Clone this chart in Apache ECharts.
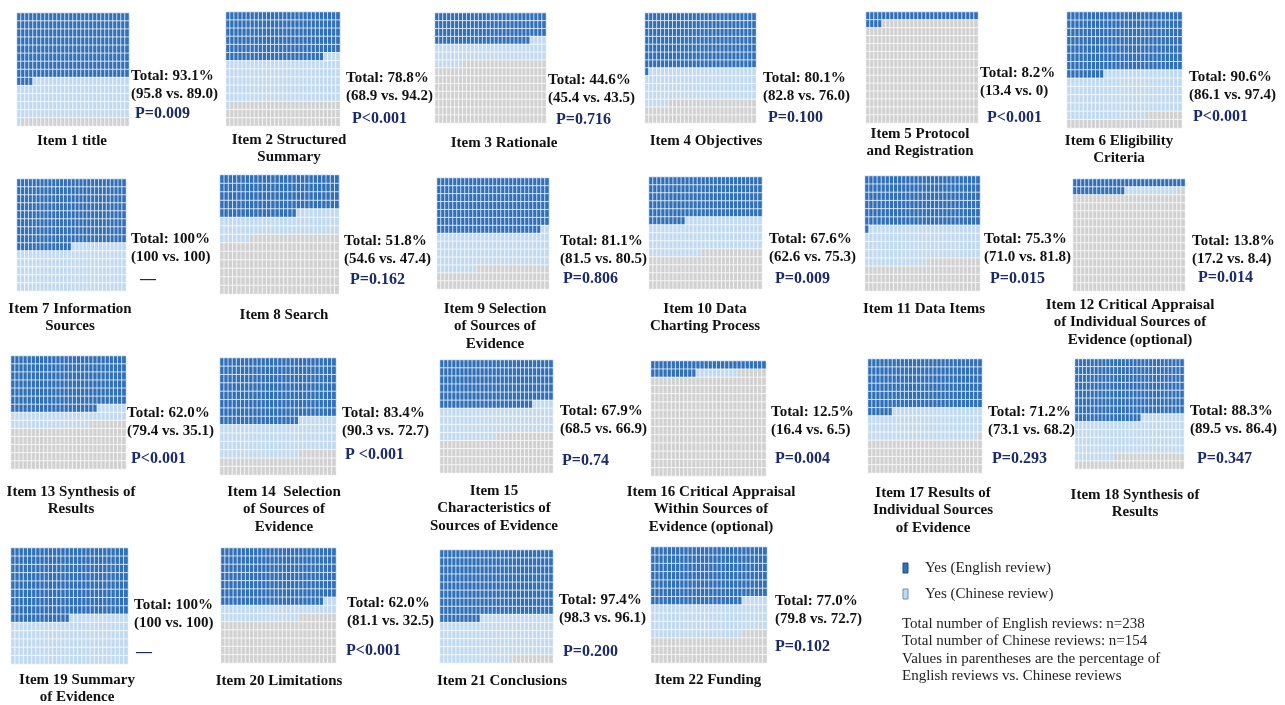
<!DOCTYPE html>
<html>
<head>
<meta charset="utf-8">
<script src="https://cdn.jsdelivr.net/npm/echarts@6/dist/echarts.min.js"></script>
<style>
html, body { margin: 0; padding: 0; background: #fff; }
#chart { width: 1285px; height: 705px; }
</style>
</head>
<body>
<div id="chart"></div>
<script>
// one cell per review: 238 English + 154 Chinese = 392 = 28 x 14
var nEnglish = 238
var nChinese = 154

var itemNames = [
    'Item 1 title', 'Item 2 Structured\nSummary', 'Item 3 Rationale', 'Item 4 Objectives',
    'Item 5 Protocol\nand Registration', 'Item 6 Eligibility\nCriteria',
    'Item 7 Information\nSources', 'Item 8 Search', 'Item 9 Selection\nof Sources of\nEvidence',
    'Item 10 Data\nCharting Process', 'Item 11 Data Items',
    'Item 12 Critical Appraisal\nof Individual Sources of\nEvidence (optional)',
    'Item 13 Synthesis of\nResults', 'Item 14  Selection\nof Sources of\nEvidence',
    'Item 15\nCharacteristics of\nSources of Evidence',
    'Item 16 Critical Appraisal\nWithin Sources of\nEvidence (optional)',
    'Item 17 Results of\nIndividual Sources\nof Evidence', 'Item 18 Synthesis of\nResults',
    'Item 19 Summary\nof Evidence', 'Item 20 Limitations', 'Item 21 Conclusions', 'Item 22 Funding'
]
var totalPct = ['93.1%', '78.8%', '44.6%', '80.1%', '8.2%', '90.6%', '100%', '51.8%', '81.1%', '67.6%', '75.3%',
    '13.8%', '62.0%', '83.4%', '67.9%', '12.5%', '71.2%', '88.3%', '100%', '62.0%', '97.4%', '77.0%']
var englishPct = ['95.8', '68.9', '45.4', '82.8', '13.4', '86.1', '100', '54.6', '81.5', '62.6', '71.0',
    '17.2', '79.4', '90.3', '68.5', '16.4', '73.1', '89.5', '100', '81.1', '98.3', '79.8']
var chinesePct = ['89.0', '94.2', '43.5', '76.0', '0', '97.4', '100', '47.4', '80.5', '75.3', '81.8',
    '8.4', '35.1', '72.7', '66.9', '6.5', '68.2', '86.4', '100', '32.5', '96.1', '72.7']
var pLabels = ['P=0.009', 'P<0.001', 'P=0.716', 'P=0.100', 'P<0.001', 'P<0.001', '\u2014', 'P=0.162', 'P=0.806',
    'P=0.009', 'P=0.015', 'P=0.014', 'P<0.001', 'P <0.001', 'P=0.74', 'P=0.004', 'P=0.293', 'P=0.347',
    '\u2014', 'P<0.001', 'P=0.200', 'P=0.102']
// number of "yes" reviews per item
var englishYes = [228, 164, 108, 197, 32, 205, 238, 130, 194, 149, 169, 41, 189, 215, 163, 39, 174, 213, 238, 193, 234, 190]
var chineseYes = [137, 145, 67, 117, 0, 150, 154, 73, 124, 116, 126, 13, 54, 112, 103, 10, 105, 133, 154, 50, 148, 112]

var noteLines = [
    'Total number of English reviews: n=238',
    'Total number of Chinese reviews: n=154',
    'Values in parentheses are the percentage of',
    'English reviews vs. Chinese reviews'
]

// layout (pixels)
var boxes = [
    [17, 13, 112, 113], [226, 12, 114, 114], [435, 13, 111, 110], [645, 13, 111, 110], [866, 12, 112, 111], [1067, 12, 115, 116],
    [17, 179, 109, 112], [220, 175, 119, 119], [437, 178, 112, 111], [649, 177, 113, 112], [865, 176, 115, 115], [1073, 179, 112, 112],
    [11, 356, 115, 113], [220, 358, 116, 117], [440, 360, 113, 113], [651, 361, 115, 115], [868, 359, 114, 114], [1075, 359, 109, 110],
    [11, 548, 117, 116], [221, 548, 115, 115], [440, 550, 113, 113], [651, 547, 116, 116]
]
var totalPos = [[131, 76], [346, 78], [548, 80], [763, 78], [980, 73], [1189, 77], [131, 239], [344, 241], [560, 241],
    [769, 239], [984, 239], [1192, 241], [127, 413], [342, 413], [560, 411], [771, 412], [988, 412], [1190, 411],
    [134, 605], [347, 603], [559, 600], [775, 601]]
var pPos = [[135, 114], [352, 119], [556, 120], [768, 118], [987, 118], [1193, 117], [140, 280], [350, 280], [563, 279],
    [775, 279], [990, 279], [1198, 278], [131, 459], [345, 455], [562, 461], [775, 459], [992, 459], [1197, 459],
    [136, 653], [346, 651], [563, 652], [775, 647]]
var labelPos = [[72, 141], [289, 140], [504, 143], [706, 141], [920, 134], [1119, 141], [70, 309], [284, 315], [495, 309],
    [705, 309], [924, 309], [1130, 305], [71, 492], [284, 492], [494, 491], [711, 492], [933, 493], [1135, 495],
    [77, 680], [279, 681], [502, 681], [708, 680]]

var COLS = 28
var ROWS = 14
var DARK = '#3070b8'
var LIGHT = '#c2daf0'
var GRAY = '#d1d1d1'
var NAVY = '#1b2a6b'
var FONT = '"Liberation Serif", "Times New Roman", serif'

var colCats = []
for (var c = 0; c < COLS; c++) colCats.push(c)
var rowCats = []
for (var r = 0; r < ROWS; r++) rowCats.push(r)

var grids = [], xAxes = [], yAxes = [], series = [], graphics = []
var seriesIdx = []

for (var i = 0; i < itemNames.length; i++) {
    var b = boxes[i]
    grids.push({ left: b[0], top: b[1], width: b[2], height: b[3], containLabel: false })
    xAxes.push({ type: 'category', gridIndex: i, data: colCats, show: false })
    yAxes.push({ type: 'category', gridIndex: i, data: rowCats, inverse: true, show: false })

    // fill row by row: English yes, then Chinese yes, then no
    var cells = []
    for (var k = 0; k < nEnglish + nChinese; k++) {
        var v = 0
        if (k < englishYes[i]) v = 2
        else if (k < englishYes[i] + chineseYes[i]) v = 1
        cells.push([k % COLS, Math.floor(k / COLS), v])
    }
    series.push({
        type: 'heatmap',
        name: itemNames[i],
        xAxisIndex: i,
        yAxisIndex: i,
        data: cells,
        itemStyle: { borderColor: 'rgba(255,255,255,0.7)', borderWidth: 1 },
        emphasis: { disabled: true }
    })
    seriesIdx.push(i)

    graphics.push({
        type: 'text', x: totalPos[i][0], y: totalPos[i][1] - 9,
        style: {
            text: 'Total: ' + totalPct[i] + '\n(' + englishPct[i] + ' vs. ' + chinesePct[i] + ')',
            font: 'bold 15px ' + FONT, fill: '#111', lineHeight: 18,
            textAlign: 'left', textVerticalAlign: 'top'
        }
    })
    graphics.push({
        type: 'text', x: pPos[i][0], y: pPos[i][1],
        style: {
            text: pLabels[i], font: 'bold 16px ' + FONT, fill: NAVY,
            textAlign: 'left', textVerticalAlign: 'middle'
        }
    })
    graphics.push({
        type: 'text', x: labelPos[i][0], y: labelPos[i][1] - 9,
        style: {
            text: itemNames[i], font: 'bold 15px ' + FONT, fill: '#111', lineHeight: 17.5,
            textAlign: 'center', textVerticalAlign: 'top'
        }
    })
}

// legend + notes
graphics.push({ type: 'rect', shape: { x: 903, y: 563, width: 5, height: 10 }, style: { fill: DARK, stroke: '#1f4e79', lineWidth: 1 } })
graphics.push({ type: 'rect', shape: { x: 903, y: 589, width: 5, height: 10 }, style: { fill: LIGHT, stroke: '#6f8fb0', lineWidth: 1 } })
graphics.push({ type: 'text', x: 925, y: 568, style: { text: 'Yes (English review)', font: '15px ' + FONT, fill: '#222', textVerticalAlign: 'middle' } })
graphics.push({ type: 'text', x: 925, y: 594, style: { text: 'Yes (Chinese review)', font: '15px ' + FONT, fill: '#222', textVerticalAlign: 'middle' } })
graphics.push({
    type: 'text', x: 902, y: 615,
    style: { text: noteLines.join('\n'), font: '15px ' + FONT, fill: '#222', lineHeight: 17.5, textVerticalAlign: 'top' }
})

var option = {
    backgroundColor: '#fff',
    animation: false,
    grid: grids,
    xAxis: xAxes,
    yAxis: yAxes,
    visualMap: {
        type: 'piecewise',
        show: false,
        dimension: 2,
        seriesIndex: seriesIdx,
        pieces: [
            { value: 2, color: DARK },
            { value: 1, color: LIGHT },
            { value: 0, color: GRAY }
        ]
    },
    series: series,
    graphic: graphics
}

echarts.init(document.getElementById('chart')).setOption(option)
</script>
</body>
</html>
